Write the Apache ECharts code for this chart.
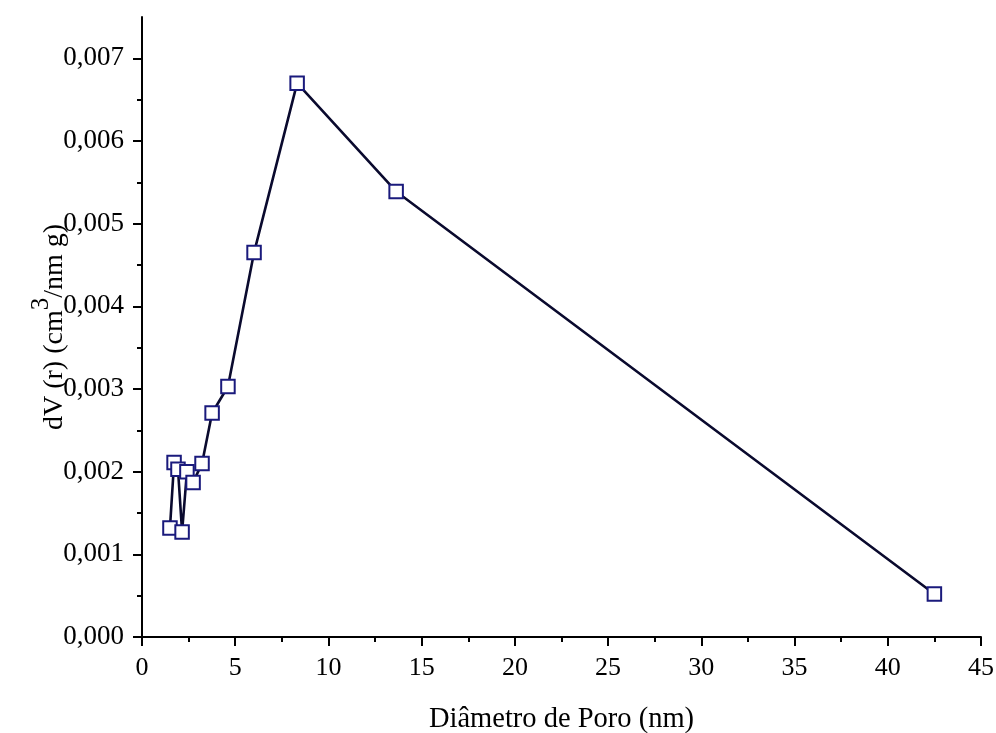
<!DOCTYPE html>
<html>
<head>
<meta charset="utf-8">
<script src="https://cdn.jsdelivr.net/npm/echarts@6/dist/echarts.min.js"></script>
<style>html,body{margin:0;padding:0;background:#fff;}#c{width:996px;height:733px;}</style>
</head>
<body>
<div id="c"></div>
<script>
const poreDiameter = [1.50, 1.72, 1.93, 2.15, 2.41, 2.74, 3.22, 3.76, 4.61, 6.01, 8.32, 13.63, 42.5];
const dV = [0.00132, 0.00211, 0.00203, 0.00127, 0.00200, 0.00187, 0.00210, 0.00271, 0.00303, 0.00465, 0.00670, 0.00539, 0.00052];
const yMajorTicks = [0, 0.001, 0.002, 0.003, 0.004, 0.005, 0.006, 0.007];
const yMinorTicks = [0.0005, 0.0015, 0.0025, 0.0035, 0.0045, 0.0055, 0.0065];
const xTicks = [0, 5, 10, 15, 20, 25, 30, 35, 40, 45];

const font = '"Liberation Serif", "Times New Roman", serif';
const chart = echarts.init(document.getElementById('c'), null, {renderer: 'canvas'});
const axisLine = {show: true, onZero: false, lineStyle: {color: '#000', width: 2}};
chart.setOption({
  animation: false,
  backgroundColor: '#fff',
  grid: {left: 142, right: 15, top: 17, bottom: 96, containLabel: false, outerBoundsMode: 'none'},
  xAxis: {
    type: 'value', min: 0, max: 45, interval: 5,
    name: 'Diâmetro de Poro (nm)', nameLocation: 'middle', nameGap: 68, nameMoveOverlap: false,
    nameTextStyle: {fontFamily: font, fontSize: 28.5, color: '#000'},
    axisLine: axisLine,
    axisTick: {show: true, inside: false, length: 9, lineStyle: {color: '#000', width: 2}},
    minorTick: {show: true, splitNumber: 2, length: 5, lineStyle: {color: '#000', width: 2}},
    axisLabel: {fontFamily: font, fontSize: 26, color: '#000', margin: 18, customValues: xTicks},
    splitLine: {show: false}, minorSplitLine: {show: false}
  },
  yAxis: [{
    type: 'value', min: 0, max: 0.0075, interval: 0.001,
    name: '{a|dV (r) (cm}{s|3}{a|/nm g)}', nameLocation: 'middle', nameGap: 62, nameRotate: 90,
    nameMoveOverlap: false,
    nameTextStyle: {
      fontFamily: font, fontSize: 28, color: '#000',
      rich: {
        a: {fontFamily: font, fontSize: 28, color: '#000'},
        s: {fontFamily: font, fontSize: 25, color: '#000', padding: [0, 0, 26, 0]}
      }
    },
    axisLine: axisLine,
    axisTick: {show: true, length: 9, lineStyle: {color: '#000', width: 2}, customValues: yMajorTicks},
    minorTick: {show: false},
    axisLabel: {fontFamily: font, fontSize: 27, color: '#000', margin: 18, customValues: yMajorTicks,
      formatter: v => v.toFixed(3).replace('.', ',')},
    splitLine: {show: false}
  }, {
    type: 'value', min: 0, max: 0.0075, position: 'left',
    axisLine: {show: false},
    axisTick: {show: true, length: 5, lineStyle: {color: '#000', width: 2}, customValues: yMinorTicks},
    axisLabel: {show: false},
    splitLine: {show: false}
  }],
  series: [{
    type: 'line',
    data: poreDiameter.map((x, i) => [x, dV[i]]),
    symbol: 'rect', symbolSize: 13.5,
    showAllSymbol: true,
    lineStyle: {color: '#0a0a2e', width: 2.6},
    itemStyle: {color: '#ffffff', borderColor: '#1a1a7c', borderWidth: 2},
    z: 3
  }]
});
</script>
</body>
</html>
